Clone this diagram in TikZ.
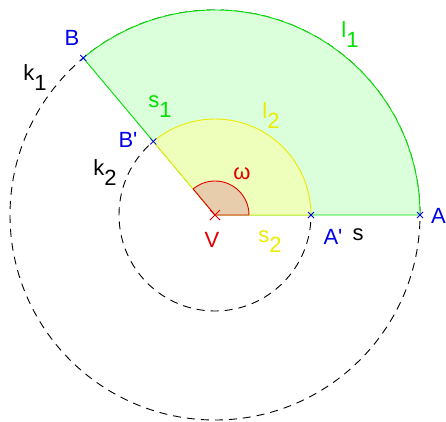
\documentclass[tikz,border=0pt]{standalone}
\usepackage{fontspec}
\setmainfont{Liberation Sans}
\definecolor{lgreen}{RGB}{0,225,0}
\definecolor{lyellow}{RGB}{235,235,0}
\definecolor{lred}{RGB}{225,0,0}
\definecolor{lblue}{RGB}{0,0,235}
\definecolor{fgreen}{RGB}{218,255,218}
\definecolor{fyellow}{RGB}{238,255,188}
\definecolor{fred}{RGB}{232,205,172}
\newcommand{\lowsub}[1]{\raisebox{-10pt}{#1}}
\begin{document}
\begin{tikzpicture}[x=1pt,y=1pt,
  lab/.style={font=\fontsize{22}{24}\selectfont, inner sep=0pt},
  circ/.style={black, dash pattern=on 8pt off 6pt, line width=0.9pt},
  bx/.style={lblue, line width=0.8pt},
  rx/.style={lred, line width=1pt}]
\useasboundingbox (-215,-206) rectangle (231,215);
\coordinate (V) at (0,0);
\coordinate (A) at (205,0);
\coordinate (Ap) at (96,0);
\coordinate (B) at (130:205);
\coordinate (Bp) at (130:96);
% dashed circles
\draw[circ] (V) circle (205);
\draw[circ] (V) circle (96);
% sectors
\filldraw[fill=fgreen, draw=lgreen, line width=0.9pt] (V) -- (A) arc (0:130:205) -- cycle;
\filldraw[fill=fyellow, draw=lyellow, line width=0.9pt] (V) -- (Ap) arc (0:130:96) -- cycle;
\filldraw[fill=fred, draw=lred, line width=0.9pt] (V) -- (34,0) arc (0:130:34) -- cycle;
% crosses
\foreach \p in {A,Ap,B,Bp} {
  \draw[bx] ([shift={(-3,-3)}]\p) -- ([shift={(3,3)}]\p);
  \draw[bx] ([shift={(-3,3)}]\p) -- ([shift={(3,-3)}]\p);
}
\draw[rx] (-5,-5) -- (5,5);
\draw[rx] (-5,5) -- (5,-5);
% labels
\node[lab, lblue] (lB) at (-143,177) {B};
\node[lab, lblue] (lBp) at (-87,75) {B\textquotesingle};
\node[lab, lblue] (lAp) at (118,-22) {A\textquotesingle};
\node[lab, lblue, anchor=west] (lA) at (216,-1) {A};
\node[lab, black] (lk1) at (-180,137) {k\lowsub{1}};
\node[lab, black] (lk2) at (-110,42) {k\lowsub{2}};
\node[lab, black] (ls) at (143,-20) {s};
\node[lab, lgreen] (ls1) at (-55,108) {s\lowsub{1}};
\node[lab, lgreen] (ll1) at (135,180) {l\lowsub{1}};
\node[lab, lyellow] (ll2) at (56,99) {l\lowsub{2}};
\node[lab, lyellow] (ls2) at (55,-27) {s\lowsub{2}};
\node[lab, lred] (lw) at (27,41) {ω};
\node[lab, lred] (lV) at (-3,-25) {V};
\end{tikzpicture}
\end{document}
